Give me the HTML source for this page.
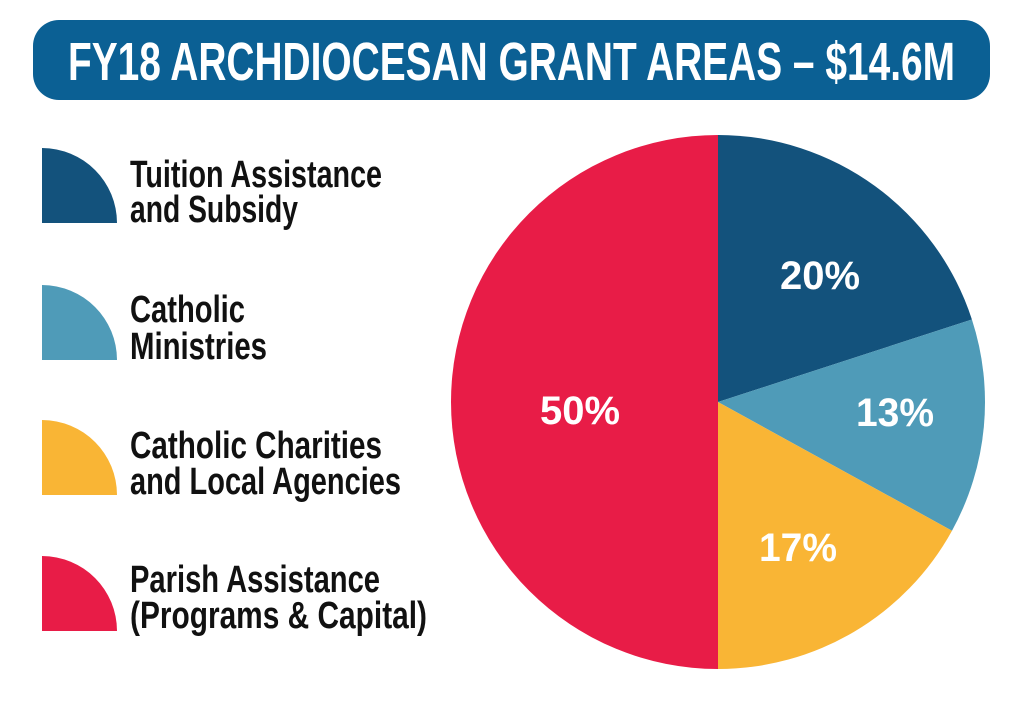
<!DOCTYPE html>
<html><head><meta charset="utf-8"><style>
html,body{margin:0;padding:0;background:#fff;}
svg{display:block;}
text{font-family:"Liberation Sans",sans-serif;font-weight:bold;}
</style></head><body>
<svg width="1024" height="713" viewBox="0 0 1024 713" xmlns="http://www.w3.org/2000/svg">
<rect x="0" y="0" width="1024" height="713" fill="#fff"/>
<rect x="33" y="20" width="957" height="80" rx="26" fill="#0b6094"/>
<text x="68" y="80" font-size="54" fill="#fff" textLength="887" lengthAdjust="spacingAndGlyphs">FY18 ARCHDIOCESAN GRANT AREAS – $14.6M</text>

<path d="M42,223 L42,148 A75,75 0 0 1 117,223 Z" fill="#13527c"/>
<path d="M42,360 L42,285 A75,75 0 0 1 117,360 Z" fill="#4f9bb8"/>
<path d="M42,495 L42,420 A75,75 0 0 1 117,495 Z" fill="#f9b535"/>
<path d="M42,631 L42,556 A75,75 0 0 1 117,631 Z" fill="#e81c47"/>

<g fill="#111" font-size="38">
<text x="130" y="187" textLength="252" lengthAdjust="spacingAndGlyphs">Tuition Assistance</text>
<text x="130" y="222" textLength="168" lengthAdjust="spacingAndGlyphs">and Subsidy</text>
<text x="130" y="322" textLength="115" lengthAdjust="spacingAndGlyphs">Catholic</text>
<text x="130" y="359" textLength="137" lengthAdjust="spacingAndGlyphs">Ministries</text>
<text x="130" y="458" textLength="252" lengthAdjust="spacingAndGlyphs">Catholic Charities</text>
<text x="130" y="494" textLength="271" lengthAdjust="spacingAndGlyphs">and Local Agencies</text>
<text x="130" y="592" textLength="250" lengthAdjust="spacingAndGlyphs">Parish Assistance</text>
<text x="130" y="628" textLength="297" lengthAdjust="spacingAndGlyphs">(Programs &amp; Capital)</text>
</g>

<g transform="translate(718,402)">
<path d="M0,0 L0,-267 A267,267 0 0 1 253.9,-82.5 Z" fill="#13527c"/>
<path d="M0,0 L253.9,-82.5 A267,267 0 0 1 234.0,128.7 Z" fill="#4f9bb8"/>
<path d="M0,0 L234.0,128.7 A267,267 0 0 1 0,267 Z" fill="#f9b535"/>
<path d="M0,0 L0,267 A267,267 0 0 1 0,-267 Z" fill="#e81c47"/>
</g>
<g fill="#fff" font-size="40" text-anchor="middle">
<text x="820" y="289" textLength="80" lengthAdjust="spacingAndGlyphs">20%</text>
<text x="895" y="426" textLength="78" lengthAdjust="spacingAndGlyphs">13%</text>
<text x="798" y="561" textLength="78" lengthAdjust="spacingAndGlyphs">17%</text>
<text x="580" y="424" textLength="80" lengthAdjust="spacingAndGlyphs">50%</text>
</g>
</svg>
</body></html>
